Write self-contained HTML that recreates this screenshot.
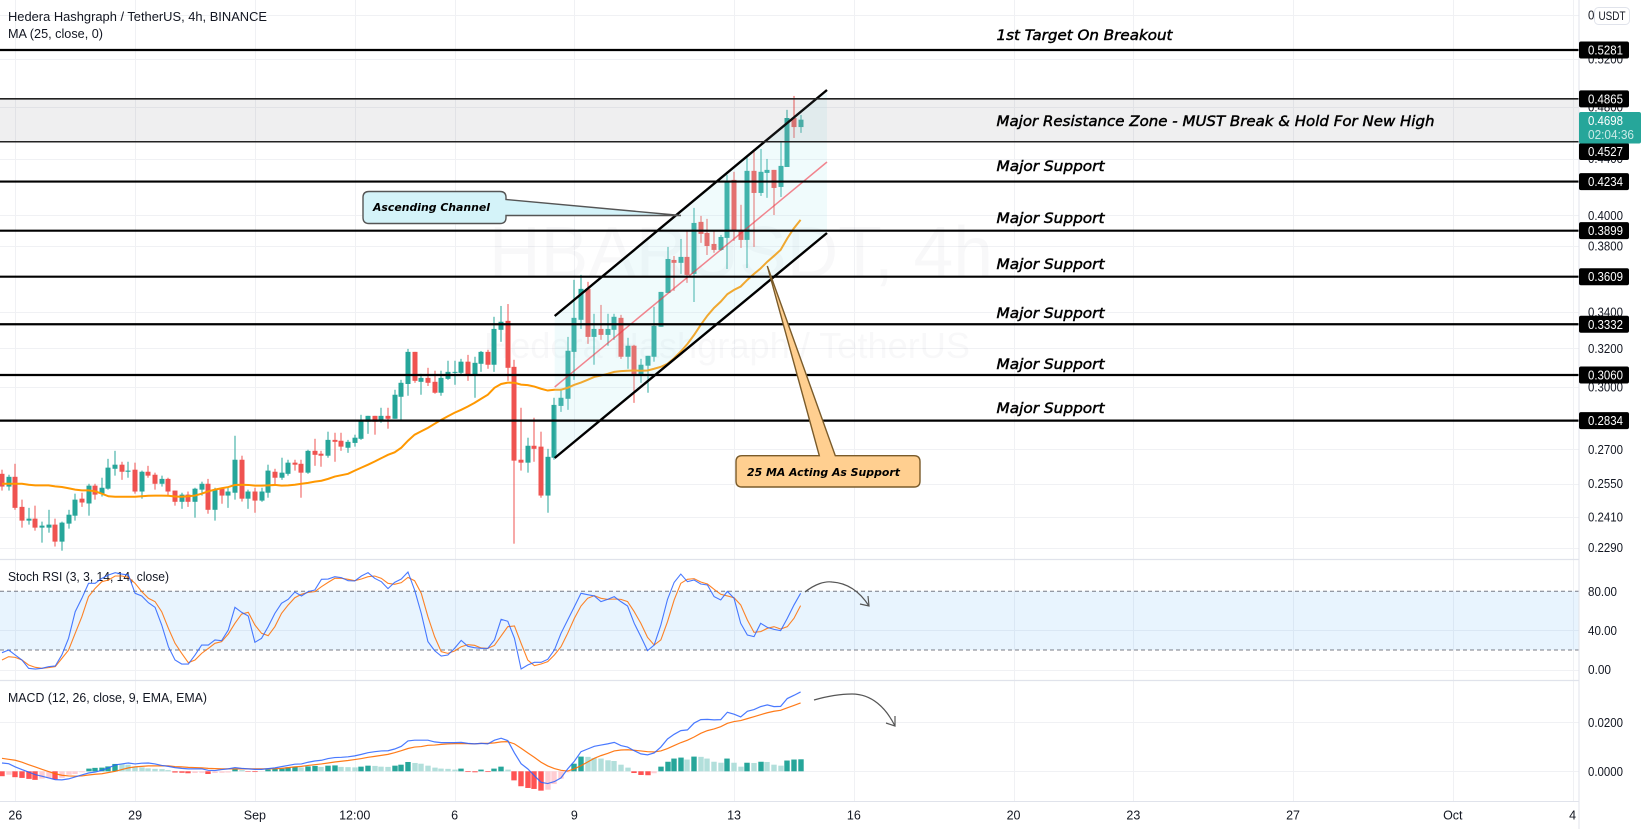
<!DOCTYPE html>
<html lang="en">
<head>
<meta charset="utf-8">
<title>Hedera Hashgraph / TetherUS 4h chart</title>
<style>
html,body{margin:0;padding:0;background:#fff;width:1646px;height:829px;overflow:hidden}
svg{display:block}
text{font-family:"Liberation Sans",sans-serif;fill:#131722}
.note{font-family:"DejaVu Sans",sans-serif;font-style:oblique;font-size:14px;fill:#000;stroke:#000;stroke-width:.45}
.call{font-family:"DejaVu Sans",sans-serif;font-style:oblique;font-weight:bold;font-size:11px;fill:#000}
.leg{font-size:13px}
.wm{fill:#2a2e39;fill-opacity:.03}
</style>
</head>
<body>
<svg id="chart" xmlns="http://www.w3.org/2000/svg" width="1646" height="829" viewBox="0 0 1646 829">
  <defs>
    <clipPath id="clip-main"><rect x="0" y="0" width="1579" height="559"/></clipPath>
    <clipPath id="clip-stoch"><rect x="0" y="560" width="1579" height="120"/></clipPath>
    <clipPath id="clip-macd"><rect x="0" y="681" width="1579" height="120"/></clipPath>
  </defs>
  <rect x="0" y="0" width="1646" height="829" fill="#ffffff"/>
  <g id="grid"></g>
  <g>
    <text class="wm" x="489" y="277" font-size="72" textLength="504" lengthAdjust="spacingAndGlyphs">HBARUSDT, 4h</text>
    <text class="wm" x="484" y="358" font-size="36" textLength="486" lengthAdjust="spacingAndGlyphs">Hedera Hashgraph / TetherUS</text>
  </g>
  <rect id="stochBand" x="0" width="1579" fill="#2196f3" fill-opacity=".1"/>
  <g id="candles" clip-path="url(#clip-main)"></g>
  <path id="maLine" fill="none" stroke="#ff9800" stroke-width="2" clip-path="url(#clip-main)"/>

  <polygon points="554.7,316 827,90 827,233 554.7,458" fill="#b2ebf2" fill-opacity=".2"/>
  <line x1="554.7" y1="316" x2="827" y2="90" stroke="#000" stroke-width="2.4"/>
  <line x1="554.7" y1="458" x2="827" y2="233" stroke="#000" stroke-width="2.4"/>
  <line x1="554.7" y1="387" x2="827" y2="162" stroke="#f23645" stroke-opacity=".6" stroke-width="1.5"/>

  <rect id="zoneRect" x="0" width="1579" fill="#787b86" fill-opacity=".12"/>
  <g id="levels" clip-path="url(#clip-main)"></g>

  <g>
    <path d="M369,191.5 H500 Q506,191.5 506,197.5 V199.5 L681,215.5 L506,215.5 V217.5 Q506,223.5 500,223.5 H369 Q363,223.5 363,217.5 V197.5 Q363,191.5 369,191.5 Z" fill="#d4f3f9" stroke="#555" stroke-width="1.4"/>
    <text class="call" x="373" y="211" textLength="117" lengthAdjust="spacingAndGlyphs">Ascending Channel</text>
  </g>
  <g>
    <path d="M742,455.7 H819.3 L767.3,266 L835.3,455.7 H914 Q920,455.7 920,461.7 V481 Q920,487 914,487 H742 Q736,487 736,481 V461.7 Q736,455.7 742,455.7 Z" fill="#ffcf90" stroke="#7a5b2a" stroke-width="1.4"/>
    <text class="call" x="747" y="476" textLength="153" lengthAdjust="spacingAndGlyphs">25 MA Acting As Support</text>
  </g>

  <g>
    <text class="note" x="996.5" y="40" textLength="176" lengthAdjust="spacingAndGlyphs">1st Target On Breakout</text>
    <text class="note" x="996.5" y="126" textLength="438" lengthAdjust="spacingAndGlyphs">Major Resistance Zone - MUST Break &amp; Hold For New High</text>
    <text class="note" x="996.5" y="171" textLength="108" lengthAdjust="spacingAndGlyphs">Major Support</text>
    <text class="note" x="996.5" y="223" textLength="108" lengthAdjust="spacingAndGlyphs">Major Support</text>
    <text class="note" x="996.5" y="269" textLength="108" lengthAdjust="spacingAndGlyphs">Major Support</text>
    <text class="note" x="996.5" y="318" textLength="108" lengthAdjust="spacingAndGlyphs">Major Support</text>
    <text class="note" x="996.5" y="369" textLength="108" lengthAdjust="spacingAndGlyphs">Major Support</text>
    <text class="note" x="996.5" y="413" textLength="108" lengthAdjust="spacingAndGlyphs">Major Support</text>
  </g>

  <g>
    <text class="leg" x="8" y="21" textLength="259" lengthAdjust="spacingAndGlyphs">Hedera Hashgraph / TetherUS, 4h, BINANCE</text>
    <text class="leg" x="8" y="38" textLength="95" lengthAdjust="spacingAndGlyphs">MA (25, close, 0)</text>
    <text class="leg" x="8" y="581" textLength="161" lengthAdjust="spacingAndGlyphs">Stoch RSI (3, 3, 14, 14, close)</text>
    <text class="leg" x="8" y="702" textLength="199" lengthAdjust="spacingAndGlyphs">MACD (12, 26, close, 9, EMA, EMA)</text>
  </g>

  <g id="stochPane" clip-path="url(#clip-stoch)"></g>
  <g id="macdPane" clip-path="url(#clip-macd)"></g>

  <g fill="none" stroke="#555" stroke-width="1.2">
    <path d="M805,592 C815,584 825,581 832,582 C848,583 860,592 869,606"/>
    <path d="M860,604 L869,606 L868,596"/>
  </g>
  <g fill="none" stroke="#555" stroke-width="1.2">
    <path d="M814,700 C828,696 842,694 852,694 C872,694 886,708 895,726"/>
    <path d="M886,723 L895,726 L895,716"/>
  </g>

  <line x1="0" y1="559.5" x2="1579" y2="559.5" stroke="#e0e3eb" stroke-width="1.2"/>
  <line x1="0" y1="680.5" x2="1579" y2="680.5" stroke="#e0e3eb" stroke-width="1.2"/>
  <line x1="1579" y1="0" x2="1579" y2="829" stroke="#e0e3eb" stroke-width="1"/>
  <line x1="0" y1="801.5" x2="1579" y2="801.5" stroke="#e0e3eb" stroke-width="1"/>

  <g id="axisTicks"></g>
  <g id="timeTicks"></g>
  <g id="badges"></g>

  <g>
    <rect x="1579" y="112" width="62" height="31.5" rx="2" fill="#26a69a"/>
    <text x="1588" y="125" font-size="12.5" style="fill:#fff" textLength="35" lengthAdjust="spacingAndGlyphs">0.4698</text>
    <text x="1588" y="139" font-size="12.5" style="fill:#c9ebe7" textLength="46" lengthAdjust="spacingAndGlyphs">02:04:36</text>
  </g>
  <g>
    <rect x="1594.5" y="7.5" width="35" height="17" rx="4" fill="#fff" stroke="#e0e3eb"/>
    <text x="1598.5" y="20" font-size="12" textLength="27" lengthAdjust="spacingAndGlyphs">USDT</text>
  </g>
</svg>

<script>
const opens = [
.2592,.2537,.2579,.2452,.2396,.2404,.2368,.2368,.2380,.2313,
.2384,.2416,.2486,.2466,.2541,.2507,.2528,.2614,.2632,.2601,
.2610,.2516,.2601,.2588,.2549,.2570,.2520,.2473,.2503,.2473,
.2524,.2549,.2440,.2528,.2499,.2511,.2654,.2486,.2516,.2478,
.2511,.2601,.2575,.2592,.2641,.2636,.2597,.2694,.2681,.2672,
.2744,.2740,.2708,.2730,.2749,.2829,.2857,.2833,.2857,.2843,
.2950,.3014,.3181,.3025,.3045,.3025,.2970,.3040,.3071,.3071,
.3129,.3056,.3118,.3181,.3113,.3301,.3351,.3102,.2654,.2641,
.2717,.2713,.2499,.2663,.2905,.2940,.3181,.3357,.3536,.3262,
.3306,.3273,.3301,.3368,.3155,.3214,.3061,.3108,.3155,.3318,
.3512,.3712,.3694,.3731,.3626,.3957,.3884,.3813,.3775,.3852,
.4246,.3904,.3839,.4311,.4154,.4296,.4318,.4196,.4339,.4711,
.4640];
const highs = [
.2610,.2588,.2636,.2482,.2448,.2457,.2392,.2440,.2404,.2392,
.2440,.2507,.2511,.2549,.2549,.2575,.2658,.2694,.2645,.2645,
.2641,.2606,.2627,.2597,.2584,.2575,.2520,.2511,.2516,.2532,
.2558,.2570,.2532,.2532,.2532,.2763,.2672,.2524,.2532,.2532,
.2632,.2614,.2663,.2654,.2654,.2654,.2699,.2749,.2694,.2782,
.2777,.2777,.2744,.2768,.2862,.2857,.2857,.2896,.2896,.2985,
.3035,.3197,.3181,.3066,.3097,.3082,.3082,.3134,.3134,.3144,
.3165,.3155,.3186,.3192,.3374,.3436,.3447,.3139,.2896,.2754,
.2848,.2782,.2703,.2945,.2990,.3262,.3590,.3620,.3578,.3391,
.3442,.3391,.3391,.3385,.3257,.3219,.3144,.3160,.3431,.3518,
.3794,.3737,.3845,.3897,.4051,.3997,.3977,.3897,.3871,.4282,
.4304,.4072,.4413,.4472,.4472,.4398,.4318,.4533,.4776,.4889,
.4735];
const lows = [
.2520,.2520,.2440,.2368,.2380,.2356,.2309,.2348,.2294,.2278,
.2364,.2396,.2452,.2416,.2482,.2495,.2524,.2584,.2566,.2575,
.2507,.2486,.2575,.2524,.2537,.2495,.2457,.2444,.2452,.2408,
.2499,.2424,.2396,.2465,.2448,.2482,.2474,.2444,.2428,.2473,
.2490,.2541,.2566,.2584,.2606,.2490,.2592,.2627,.2623,.2663,
.2645,.2694,.2685,.2713,.2744,.2772,.2768,.2824,.2796,.2843,
.2833,.2955,.3020,.2960,.3004,.2965,.2955,.3035,.3010,.3056,
.3030,.2945,.3076,.3092,.3076,.3235,.3030,.2305,.2606,.2597,
.2645,.2490,.2428,.2654,.2876,.2886,.3035,.3306,.3224,.3113,
.3246,.3214,.3246,.3144,.3092,.2920,.3020,.2970,.3129,.3318,
.3512,.3524,.3626,.3572,.3459,.3820,.3743,.3757,.3769,.3656,
.3833,.3788,.3662,.3794,.4133,.4120,.4003,.4126,.4339,.4556,
.4595];
const closes = [
.2537,.2579,.2448,.2396,.2404,.2368,.2376,.2380,.2313,.2388,
.2420,.2482,.2470,.2541,.2503,.2532,.2619,.2632,.2601,.2606,
.2516,.2601,.2584,.2549,.2570,.2516,.2473,.2503,.2473,.2528,
.2549,.2440,.2524,.2499,.2516,.2654,.2486,.2516,.2478,.2516,
.2606,.2575,.2597,.2641,.2632,.2597,.2694,.2676,.2672,.2744,
.2735,.2713,.2735,.2754,.2833,.2857,.2829,.2857,.2843,.2960,
.3020,.3181,.3030,.3045,.3020,.2970,.3045,.3076,.3076,.3129,
.3056,.3123,.3181,.3113,.3306,.3346,.3097,.2650,.2641,.2717,
.2703,.2499,.2667,.2910,.2945,.3187,.3368,.3536,.3262,.3306,
.3273,.3306,.3374,.3155,.3214,.3061,.3113,.3160,.3323,.3518,
.3718,.3694,.3731,.3620,.3950,.3878,.3800,.3775,.3858,.4239,
.3897,.3839,.4311,.4154,.4304,.4318,.4189,.4347,.4711,.4640,
.4698];
const ma25 = [
.2549,.2549,.2549,.2549,.2545,.2542,.2542,.2542,.2538,.2535,
.2530,.2524,.2521,.2521,.2517,.2507,.2496,.2494,.2494,.2494,
.2494,.2496,.2498,.2499,.2499,.2498,.2495,.2494,.2496,.2499,
.2507,.2517,.2524,.2530,.2535,.2544,.2545,.2544,.2541,.2541,
.2542,.2544,.2541,.2542,.2545,.2549,.2553,.2558,.2562,.2570,
.2580,.2586,.2592,.2606,.2619,.2632,.2646,.2661,.2676,.2687,
.2708,.2740,.2768,.2784,.2800,.2819,.2838,.2855,.2872,.2886,
.2902,.2920,.2940,.2960,.2995,.3014,.3021,.3020,.3011,.3008,
.3001,.2990,.2981,.2985,.2985,.2995,.3010,.3021,.3035,.3050,
.3057,.3066,.3076,.3080,.3082,.3083,.3082,.3083,.3092,.3102,
.3118,.3148,.3183,.3224,.3273,.3329,.3381,.3425,.3461,.3505,
.3530,.3550,.3590,.3626,.3660,.3701,.3737,.3775,.3849,.3915,
.3970];
const stochK = [
17.2,19.9,14.8,9.7,1.2,.5,1.2,2.9,3.6,15,
31.9,59.1,72.8,88.1,88.1,93.2,96.6,99,97.6,96.6,
77.9,75.2,68.3,63.6,45.5,23.3,9.7,5.6,5.6,14.8,
25,25,30.2,29.5,40.4,63.6,58.5,54.7,27.8,31.9,
43.8,57.4,67.7,71.7,79.2,75.2,79.6,81.3,92.2,92.5,
94.9,93.9,90.8,90.5,95.6,99,93.2,89.8,82.7,89.1,
92.5,99.7,81.3,57.4,28.5,19.3,13.8,14.8,21.6,29.8,
23.7,22.3,21.6,21.6,30.2,51.3,49.3,31.9,.5,4.6,
7.3,7.3,10.4,19.9,37,50.6,64.2,77.9,76.5,75.2,
69.4,71.7,74.5,69.4,64.9,47.2,33.6,19.3,25,45.5,
71.7,89.1,97.6,89.8,91.5,87.4,86.4,74.5,71.1,79.9,
72.8,47.2,35.3,33.6,47.2,43.1,41,39.7,52.3,65.9,
77.9];
const stochD = [
9.7,13.1,12.4,9.7,4.6,2.2,1.2,1.9,2.9,11.4,
19.9,37,54,74.5,83,89.8,91.5,95.6,95.6,94.2,
88.1,79.6,72.8,69.4,59.1,42.1,26.8,16.5,7,9.7,
16.5,21.6,26.8,28.5,36.3,47.2,56.7,58.5,45.5,37,
34.6,43.8,57.4,66,73.4,76.9,78.9,79.6,84.7,89.1,
93.2,93.2,92.2,90.8,92.5,94.9,95.6,93.2,88.1,87.1,
88.8,94.2,90.8,77.9,54,33.6,18.2,16.5,18.9,23.3,
25.4,24.7,22,21.6,24.7,34.3,43.8,44.5,26.8,9.7,
3.9,5.6,8,14.8,23.3,37,52.3,64.9,72.8,75.5,
72.8,71.7,72.1,71.7,69.4,59.1,47.2,32.9,25,30.2,
48.9,71.1,88.1,92.2,92.9,89.5,87.4,82,76.9,75.2,
73.4,66,50.6,38,38.7,42.1,43.8,41.4,43.8,52.3,
65.3];
const macdLine = [
.0034,.0031,.0018,.0007,-.0003,-.0014,-.0020,-.0027,-.0034,-.0035,
-.0031,-.0023,-.0015,-.0007,-.0003,.0004,.0014,.0026,.0030,.0034,
.0030,.0033,.0034,.0030,.0024,.0020,.0015,.0012,.0010,.0010,
.0010,.0004,.0003,.0007,.0010,.0015,.0012,.0010,.0008,.0008,
.0011,.0014,.0019,.0024,.0029,.0030,.0037,.0042,.0045,.0052,
.0056,.0057,.0059,.0063,.0069,.0076,.0080,.0083,.0084,.0091,
.0102,.0124,.0127,.0127,.0127,.0120,.0117,.0117,.0117,.0118,
.0114,.0112,.0114,.0112,.0127,.0135,.0125,.0075,.0031,.0010,
-.0018,-.0045,-.0050,-.0042,-.0027,.0010,.0041,.0080,.0091,.0102,
.0107,.0112,.0118,.0105,.0099,.0084,.0071,.0067,.0075,.0099,
.0132,.0151,.0166,.0169,.0197,.0211,.0212,.0210,.0211,.0241,
.0233,.0222,.0245,.0252,.0264,.0271,.0264,.0265,.0297,.0310,
.0324];
const macdSignal = [
.0053,.0049,.0045,.0037,.0027,.0018,.0008,-.0001,-.0010,-.0016,
-.0019,-.0020,-.0019,-.0015,-.0012,-.0010,-.0005,0,.0007,.0014,
.0018,.0020,.0022,.0022,.0022,.0022,.0019,.0018,.0016,.0015,
.0014,.0012,.0011,.0010,.0010,.0010,.0010,.0010,.0010,.0010,
.0010,.0011,.0012,.0015,.0018,.0020,.0024,.0027,.0030,.0034,
.0038,.0041,.0044,.0048,.0052,.0057,.0061,.0065,.0069,.0076,
.0084,.0093,.0099,.0101,.0106,.0107,.0110,.0112,.0113,.0113,
.0113,.0112,.0114,.0114,.0116,.0120,.0121,.0112,.0094,.0075,
.0057,.0037,.0022,.0011,.0004,.0001,.0010,.0023,.0038,.0053,
.0064,.0073,.0083,.0087,.0088,.0086,.0083,.0080,.0079,.0083,
.0093,.0105,.0117,.0127,.0140,.0155,.0166,.0173,.0182,.0196,
.0203,.0207,.0215,.0223,.0231,.0239,.0245,.0249,.0259,.0269,
.0279];
const macdHist = [
-.0020,-.0014,-.0024,-.0027,-.0031,-.0035,-.0030,-.0027,-.0033,-.0027,
-.0014,-.0011,-.0004,.0011,.0014,.0015,.0020,.0030,.0029,.0027,
.0019,.0016,.0012,.0010,.0009,.0005,-.0005,-.0006,-.0008,-.0007,
-.0006,-.0011,-.0007,-.0006,-.0005,.0008,.0005,-.0002,-.0003,-.0001,
.0007,.0010,.0011,.0016,.0018,.0016,.0020,.0022,.0018,.0023,
.0024,.0018,.0017,.0016,.0019,.0023,.0022,.0019,.0018,.0023,
.0027,.0038,.0034,.0031,.0023,.0015,.0011,.0010,.0007,.0011,
-.0003,-.0004,.0007,-.0003,.0011,.0019,.0007,-.0037,-.0061,-.0068,
-.0072,-.0079,-.0075,-.0052,-.0030,-.0004,.0031,.0060,.0059,.0054,
.0052,.0045,.0042,.0027,.0015,-.0007,-.0015,-.0016,-.0008,.0019,
.0039,.0052,.0056,.0048,.0060,.0059,.0052,.0039,.0035,.0052,
.0035,.0019,.0035,.0034,.0039,.0038,.0027,.0023,.0044,.0048,
.0049];
const priceTicks = [0.56,0.52,0.48,0.44,0.40,0.38,0.34,0.32,0.30,0.27,0.255,0.241,0.229];
const stochTicks = [80,40,0];
const macdTicks = [0.02,0];
const keyLevels = [0.5281,0.4865,0.4527,0.4234,0.3899,0.3609,0.3332,0.3060,0.2834];
const timeLabels = ["26","29","Sep","12:00","6","9","13","16","20","23","27","Oct","4"];
const timeBars = [2,20,38,53,68,86,110,128,152,170,194,218,236];

const SVGNS = "http://www.w3.org/2000/svg";
function xOf(i){return 2+6.655*i;}
function yPrice(p){return 50+595.5*Math.log(0.5281/p);}
function yStoch(v){return 669.5-0.978*v;}
function yMacd(v){return 771.3-2450*v;}
function mk(tag,parent,attrs,txt){
  const e=document.createElementNS(SVGNS,tag);
  for(const k in attrs)e.setAttribute(k,attrs[k]);
  if(txt!==undefined)e.textContent=txt;
  parent.appendChild(e);
  return e;
}
function linePath(vals,yf){
  return vals.map((v,i)=>(i?"L":"M")+xOf(i).toFixed(2)+","+yf(v).toFixed(2)).join(" ");
}
const grid=document.getElementById("grid");
const GRID="#f0f1f4";
timeBars.forEach(b=>{
  const x=Math.round(xOf(b))+.5;
  const gl=mk("line",grid,{x1:x,y1:0,x2:x,y2:801,stroke:GRID,"stroke-width":1});
  
  
});
function hGrid(y){
  const gl=mk("line",grid,{x1:0,y1:y,x2:1579,y2:y,stroke:GRID,"stroke-width":1});
  
  
}
priceTicks.forEach(p=>hGrid(Math.round(yPrice(p))+.5));
stochTicks.forEach(v=>{ if(v!==80) hGrid(Math.round(yStoch(v))+.5); });
macdTicks.forEach(v=>hGrid(Math.round(yMacd(v))+.5));

const band=document.getElementById("stochBand");
band.setAttribute("y",yStoch(80));
band.setAttribute("height",yStoch(20)-yStoch(80));

const cg=document.getElementById("candles");
closes.forEach((c,i)=>{
  const o=opens[i],up=c>=o,col=up?"#26a69a":"#ef5350";
  const x=Math.round(xOf(i));
  const g=mk("g",cg,{});
  
  
  mk("rect",g,{x:x-.5,y:yPrice(highs[i]),width:1,height:Math.max(1,yPrice(lows[i])-yPrice(highs[i])),fill:col});
  const top=yPrice(Math.max(o,c)),bot=yPrice(Math.min(o,c));
  mk("rect",g,{x:x-2.5,y:top,width:5,height:Math.max(1,bot-top),fill:col});
});
document.getElementById("maLine").setAttribute("d",linePath(ma25,yPrice));

const zone=document.getElementById("zoneRect");
zone.setAttribute("y",yPrice(keyLevels[1]));
zone.setAttribute("height",yPrice(keyLevels[2])-yPrice(keyLevels[1]));

const lv=document.getElementById("levels");
keyLevels.forEach((p,i)=>{
  const y=yPrice(p);
  const inZone=(i===1||i===2);
  const l=mk("line",lv,{x1:0,y1:y,x2:1579,y2:y,stroke:inZone?"#222":"#000","stroke-width":inZone?1.6:2.2});
  
  
});

const sp=document.getElementById("stochPane");
[80,20].forEach(v=>{
  const y=yStoch(v);
  const l=mk("line",sp,{x1:0,y1:y,x2:1579,y2:y,stroke:"#787b86","stroke-width":1,"stroke-dasharray":"4 3"});
  
  
});
const dLine=mk("path",sp,{d:linePath(stochD,yStoch),fill:"none",stroke:"#ff6d00","stroke-width":1.1,"stroke-opacity":.85});


const kLine=mk("path",sp,{d:linePath(stochK,yStoch),fill:"none",stroke:"#2962ff","stroke-width":1.1,"stroke-opacity":.85});



const mp=document.getElementById("macdPane");
macdHist.forEach((h,i)=>{
  const prev=i?macdHist[i-1]:Infinity;
  const col=h>=0?(h>prev?"#26a69a":"#b2dfdb"):(h>prev?"#ffcdd2":"#ff5252");
  const y0=yMacd(0),y1=yMacd(h);
  const x=Math.round(xOf(i));
  const b=mk("rect",mp,{x:x-2.7,y:Math.min(y0,y1),width:5.4,height:Math.abs(y1-y0),fill:col});
  
  
});
const sLine=mk("path",mp,{d:linePath(macdSignal,yMacd),fill:"none",stroke:"#ff6d00","stroke-width":1.2,"stroke-opacity":.9});


const mLine=mk("path",mp,{d:linePath(macdLine,yMacd),fill:"none",stroke:"#2962ff","stroke-width":1.2,"stroke-opacity":.85});



const at=document.getElementById("axisTicks");
function tick(y,label,w){
  const t=mk("text",at,{x:1588,y:y+4.5,"font-size":12.5,textLength:w,lengthAdjust:"spacingAndGlyphs"},label);
  
  
}
priceTicks.forEach(p=>tick(yPrice(p),p.toFixed(4),35));
stochTicks.forEach(v=>tick(yStoch(v),v.toFixed(2),v?29:23));
macdTicks.forEach(v=>tick(yMacd(v),v.toFixed(4),35));

const tt=document.getElementById("timeTicks");
timeLabels.forEach((s,i)=>{
  const t=mk("text",tt,{x:xOf(timeBars[i]),y:819.5,"font-size":12.5,"text-anchor":"middle"},s);
  
  
});

const bd=document.getElementById("badges");
keyLevels.forEach(p=>{
  let y=yPrice(p);
  if(y>103.5 && y<152) y=151.5;
  const g=mk("g",bd,{});
  
  
  mk("rect",g,{x:1579,y:y-8.5,width:50,height:17,rx:2,fill:"#000"});
  const t=mk("text",g,{x:1588,y:y+4.5,"font-size":12.5,textLength:35,lengthAdjust:"spacingAndGlyphs"},p.toFixed(4));
  t.style.fill="#fff";
});
</script>
</body>
</html>
